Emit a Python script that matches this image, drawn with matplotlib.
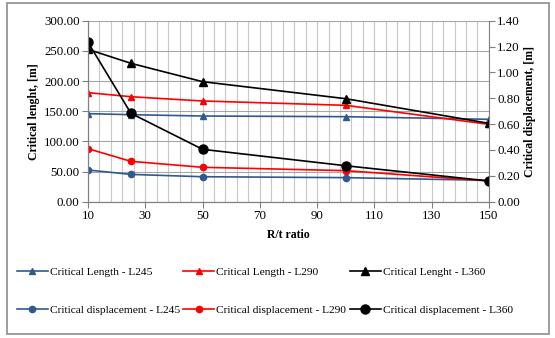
import numpy as np
import matplotlib.pyplot as plt
from matplotlib.patches import Rectangle

# dados
rt = [10, 25, 50, 100, 150]

len_245 = [145.9, 144.2, 142.0, 140.9, 136.5]
len_290 = [180.7, 174.0, 166.9, 159.7, 128.2]
len_360 = [252.5, 229.3, 198.9, 170.7, 129.8]

disp_245 = [0.245, 0.211, 0.193, 0.186, 0.165]
disp_290 = [0.410, 0.312, 0.266, 0.240, 0.160]
disp_360 = [1.232, 0.683, 0.405, 0.278, 0.160]

labels_len = ["Critical Length - L245", "Critical Length - L290", "Critical Lenght - L360"]
labels_disp = ["Critical displacement - L245", "Critical displacement - L290",
               "Critical displacement - L360"]
cores = ["#2f5a8f", "#ff0000", "#000000"]

plt.rcParams['font.family'] = ['Liberation Serif', 'DejaVu Serif']
plt.rcParams['font.size'] = 8.5

fig = plt.figure(figsize=(5.55, 3.38), dpi=100)
fig.patches.append(Rectangle((0.013, 0.012), 0.976, 0.978, transform=fig.transFigure,
                             fill=False, edgecolor="#8c8c8c", linewidth=1.2))

ax = fig.add_axes([0.1586, 0.4033, 0.7224, 0.5355])
ax2 = ax.twinx()

h_len = []
for y, c, lab in zip([len_245, len_290, len_360], cores, labels_len):
    ms = 6 if c == "#000000" else 5
    l, = ax.plot(rt, y, color=c, marker="^", markersize=ms, linewidth=1.2, label=lab)
    h_len.append(l)

h_disp = []
for y, c, lab in zip([disp_245, disp_290, disp_360], cores, labels_disp):
    ms = 6.5 if c == "#000000" else 4.5
    l, = ax2.plot(rt, y, color=c, marker="o", markersize=ms, linewidth=1.2, label=lab)
    h_disp.append(l)

ax.set_xlim(10, 150)
ax.set_ylim(0, 300)
ax2.set_ylim(0, 1.4)
ax.set_xticks(np.arange(10, 151, 20))
ax.set_xticks(np.arange(10, 151, 4), minor=True)
ax.set_yticks(np.arange(0, 301, 50))
ax2.set_yticks(np.arange(0, 1.41, 0.2))
ax.set_yticklabels(["%.2f" % v for v in np.arange(0, 301, 50)])
ax2.set_yticklabels(["%.2f" % v for v in np.arange(0, 1.41, 0.2)])

ax.grid(True, which="both", axis="x", color="#c8c8c8", linewidth=0.8)
ax.grid(True, which="major", axis="y", color="#a6a6a6", linewidth=0.8)
ax.set_axisbelow(True)
ax.tick_params(which="minor", length=0)
ax.tick_params(which="major", length=4, color="#808080", labelsize=9.3, pad=2)
ax2.tick_params(which="major", length=4, color="#808080", labelsize=9.3, pad=2)

for a in (ax, ax2):
    a.spines["top"].set_visible(False)
    for s in ("left", "right", "bottom"):
        a.spines[s].set_color("#808080")
ax.spines["right"].set_visible(False)

ax.set_xlabel("R/t ratio", fontweight="bold", fontsize=8.5, labelpad=5)
ax.set_ylabel("Critical lenght, [m]", fontweight="bold", fontsize=8.5, labelpad=3)
ax2.set_ylabel("Critical displacement, [m]", fontweight="bold", fontsize=8.5, labelpad=3)

# ordem para preencher as linhas da legenda (ncol=3 preenche por coluna)
handles = []
labels = []
for a, b in zip(h_len, h_disp):
    handles += [a, b]
    labels += [a.get_label(), b.get_label()]

fig.legend(handles, labels, ncol=3, loc="lower left",
           bbox_to_anchor=(0.022, 0.054), frameon=False, fontsize=8.2,
           handlelength=2.7, handletextpad=0.2, columnspacing=0.3, labelspacing=2.5,
           borderaxespad=0)

plt.savefig("out.png", dpi=100)
